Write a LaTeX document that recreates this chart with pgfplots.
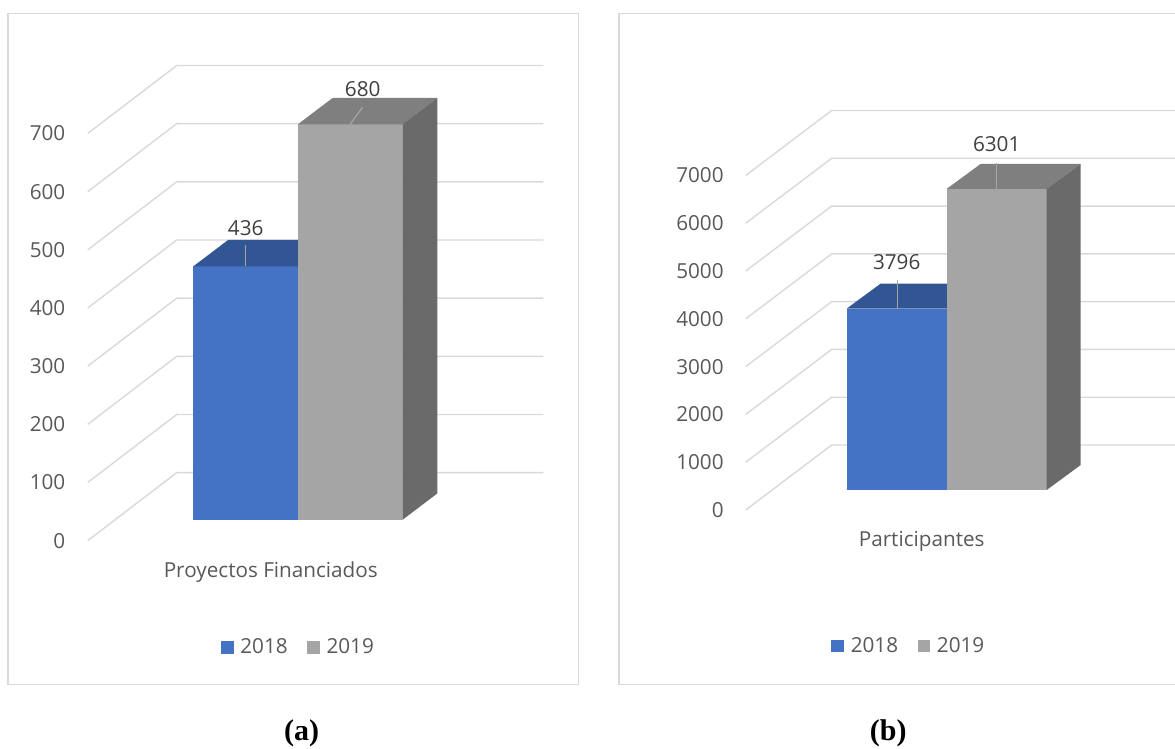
\documentclass[border=0pt]{standalone}
\usepackage{fontspec}
\setmainfont{Open Sans}
\newfontfamily\capfont{Liberation Serif}
\usepackage{pgfplots}
\pgfplotsset{compat=1.18}

\definecolor{bluefront}{HTML}{4472C4}
\definecolor{bluetop}{HTML}{325593}
\definecolor{grayfront}{HTML}{A5A5A5}
\definecolor{graytop}{HTML}{7F7F7F}
\definecolor{grayside}{HTML}{6A6A6A}
\definecolor{gridc}{HTML}{D9D9D9}
\definecolor{axistext}{HTML}{595959}
\definecolor{labeltext}{HTML}{404040}
\definecolor{leader}{HTML}{A6A6A6}

\newcommand{\chartfont}{\fontsize{10.35}{12.5}\selectfont}

\pgfplotsset{
  panel/.style={
    scale only axis, anchor=south west, height=335.5pt,
    axis line style={draw=gridc, line width=0.65pt},
    xtick=\empty, major tick length=0pt, no markers,
    ytick style={draw=none},
    yticklabel style={anchor=east, inner sep=0pt, text=axistext, font=\chartfont},
    legend style={draw=none, fill=none, font=\chartfont, text=axistext,
      anchor=center, legend columns=2, nodes={inner sep=0pt},
      /tikz/every odd column/.append style={column sep=3.35pt},
      /tikz/every even column/.append style={column sep=9.7pt}},
    legend image code/.code={\fill[##1] (0pt,-3.17pt) rectangle (6.35pt,3.17pt);},
  },
  wall/.style={draw=gridc, line width=0.7pt, forget plot},
  face/.style={draw=none, fill=#1, forget plot},
  lead/.style={draw=leader, line width=0.6pt, forget plot},
}

\begin{document}
\begin{tikzpicture}
\useasboundingbox[fill=white] (0,0) rectangle (587.5pt,374.5pt);

% ---------------- Proyectos Financiados ----------------
\begin{axis}[panel, at={(4pt,32.35pt)}, width=285.15pt,
  xmin=8, xmax=578.3, ymin=-282.5, ymax=871.1,
  ytick={-35.6,64.4,164.4,264.4,364.4,464.4,564.4,664.4},
  yticklabels={0,100,200,300,400,500,600,700},
  yticklabel style={xshift=28.85pt},
  legend style={at={(0.5075,0.0551)}}]
% back walls and floor grid
\addplot[wall] coordinates {(87.7,-35.6) (176.7,81.3) (543.3,81.3)};
\addplot[wall] coordinates {(87.7,64.4) (176.7,181.3) (543.3,181.3)};
\addplot[wall] coordinates {(87.7,164.4) (176.7,281.3) (543.3,281.3)};
\addplot[wall] coordinates {(87.7,264.4) (176.7,381.3) (543.3,381.3)};
\addplot[wall] coordinates {(87.7,364.4) (176.7,481.3) (543.3,481.3)};
\addplot[wall] coordinates {(87.7,464.4) (176.7,581.3) (543.3,581.3)};
\addplot[wall] coordinates {(87.7,564.4) (176.7,681.3) (543.3,681.3)};
\addplot[wall] coordinates {(87.7,664.4) (176.7,781.3) (543.3,781.3)};
% 2018 column: 436
\addplot[draw=none, fill=bluefront] coordinates {(193.3,0) (297.7,0) (297.7,436) (193.3,436)} -- cycle;
\addlegendentry{2018}
\addplot[face=bluetop] coordinates {(193.3,436) (297.7,436) (332.7,481.6) (228.3,481.6)} -- cycle;
% 2019 column: 680
\addplot[draw=none, fill=grayfront] coordinates {(297.7,0) (402.3,0) (402.3,680) (297.7,680)} -- cycle;
\addlegendentry{2019}
\addplot[face=graytop] coordinates {(297.7,680) (402.3,680) (437.3,725.6) (332.7,725.6)} -- cycle;
\addplot[face=grayside] coordinates {(402.3,0) (437.3,45.6) (437.3,725.6) (402.3,680)} -- cycle;
% value labels with leader lines
\addplot[lead] coordinates {(245.7,436) (245.7,473.3)};
\addplot[lead] coordinates {(350,680) (362.7,709.7)};
\node[font=\chartfont, text=labeltext] at (axis cs:245.7,501.5) {436};
\node[font=\chartfont, text=labeltext] at (axis cs:362.7,740.4) {680};
\node[font=\chartfont, text=axistext] at (axis cs:270.8,-88.9) {Proyectos Financiados};
\end{axis}

% ---------------- Participantes ----------------
\begin{axis}[panel, at={(309.5pt,32.35pt)}, width=288pt,
  xmin=619, xmax=1195, ymin=-4066, ymax=9975,
  ytick={-418.5,581.5,1581.5,2581.5,3581.5,4581.5,5581.5,6581.5},
  yticklabels={0,1000,2000,3000,4000,5000,6000,7000},
  yticklabel style={xshift=52.5pt},
  legend style={at={(0.5014,0.057)}}]
\addplot[wall] coordinates {(745.7,-418.5) (831.7,941.6) (1185,941.6)};
\addplot[wall] coordinates {(745.7,581.5) (831.7,1941.6) (1185,1941.6)};
\addplot[wall] coordinates {(745.7,1581.5) (831.7,2941.6) (1185,2941.6)};
\addplot[wall] coordinates {(745.7,2581.5) (831.7,3941.6) (1185,3941.6)};
\addplot[wall] coordinates {(745.7,3581.5) (831.7,4941.6) (1185,4941.6)};
\addplot[wall] coordinates {(745.7,4581.5) (831.7,5941.6) (1185,5941.6)};
\addplot[wall] coordinates {(745.7,5581.5) (831.7,6941.6) (1185,6941.6)};
\addplot[wall] coordinates {(745.7,6581.5) (831.7,7941.6) (1185,7941.6)};
% 2018 column: 3796
\addplot[draw=none, fill=bluefront] coordinates {(846.7,0) (946.7,0) (946.7,3796) (846.7,3796)} -- cycle;
\addlegendentry{2018}
\addplot[face=bluetop] coordinates {(846.7,3796) (946.7,3796) (980.7,4319.1) (880.7,4319.1)} -- cycle;
% 2019 column: 6301
\addplot[draw=none, fill=grayfront] coordinates {(946.7,0) (1046.7,0) (1046.7,6301) (946.7,6301)} -- cycle;
\addlegendentry{2019}
\addplot[face=graytop] coordinates {(946.7,6301) (1046.7,6301) (1080.7,6824.1) (980.7,6824.1)} -- cycle;
\addplot[face=grayside] coordinates {(1046.7,0) (1080.7,523.1) (1080.7,6824.1) (1046.7,6301)} -- cycle;
\addplot[lead] coordinates {(897.7,3796) (897.7,4402.8)};
\addplot[lead] coordinates {(996.7,6301) (996.7,6838.8)};
\node[font=\chartfont, text=labeltext] at (axis cs:896.7,4777.2) {3796};
\node[font=\chartfont, text=labeltext] at (axis cs:996.7,7240) {6301};
\node[font=\chartfont, text=axistext] at (axis cs:921.7,-1067.2) {Participantes};
\end{axis}

\node[font=\capfont\bfseries\fontsize{15}{18}\selectfont] at (150.85pt,7.85pt) {(a)};
\node[font=\capfont\bfseries\fontsize{15}{18}\selectfont] at (444.15pt,7.85pt) {(b)};
\end{tikzpicture}
\end{document}
